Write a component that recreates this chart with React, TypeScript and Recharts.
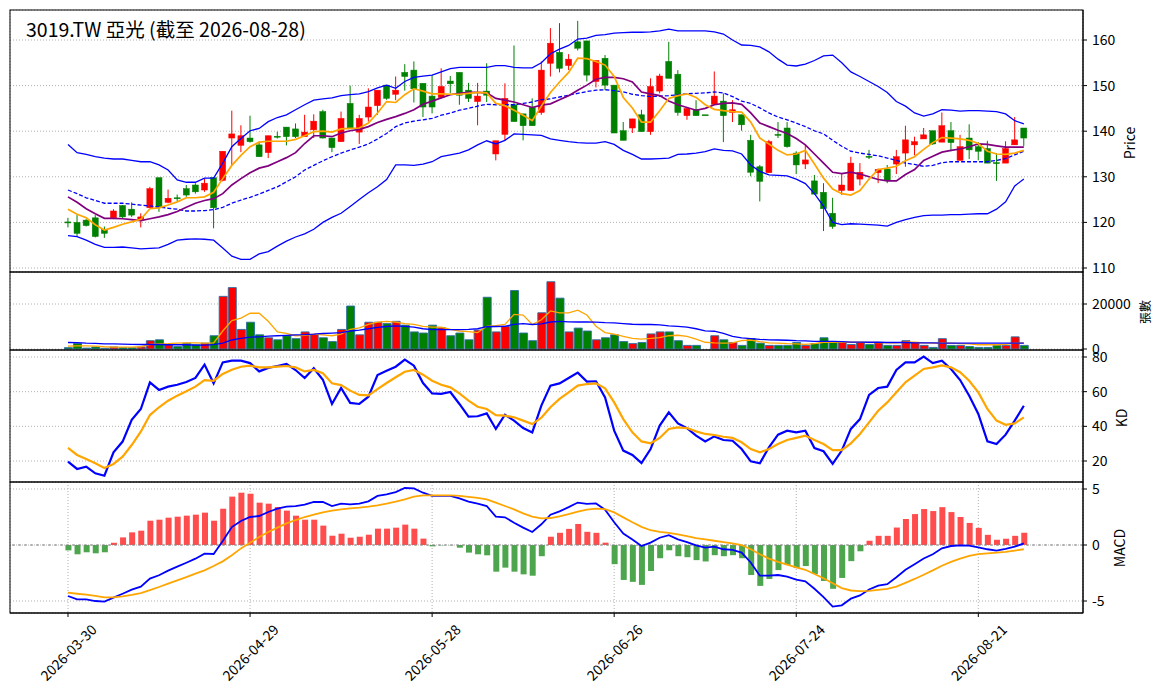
import React from 'react';
import { ComposedChart, Bar, Line, XAxis, YAxis, CartesianGrid, ReferenceLine, Cell } from 'recharts';

const tickIdx = [0, 20, 40, 60, 80, 100];
const tickDates = ['2026-03-30', '2026-04-29', '2026-05-28', '2026-06-26', '2026-07-24', '2026-08-21'];

const opens = [
  120.1, 120.0, 120.5, 121.0, 118.5, 121.0, 123.7, 122.9, 120.7, 123.2,
  129.8, 124.4, 125.4, 127.4, 128.2, 127.1, 129.8, 129.2, 138.5, 136.9,
  138.5, 137.0, 135.3, 138.9, 140.9, 140.5, 138.8, 140.3, 144.3, 138.5,
  137.7, 146.1, 139.8, 143.1, 145.6, 150.1, 148.1, 152.9, 153.4, 150.5,
  147.7, 147.4, 151.0, 152.9, 149.0, 146.5, 148.8, 135.0, 139.3, 145.8,
  143.8, 145.2, 144.1, 154.9, 157.3, 154.4, 159.6, 159.8, 150.9, 156.0,
  150.1, 140.1, 140.7, 143.6, 139.9, 148.8, 155.3, 152.5, 143.4, 144.7,
  143.6, 145.9, 146.6, 144.1, 143.6, 138.0, 132.2, 130.9, 139.3, 140.7,
  135.2, 132.8, 129.1, 126.6, 122.0, 127.0, 127.0, 129.5, 134.5, 130.9,
  131.7, 132.8, 135.2, 137.0, 138.3, 140.1, 137.6, 140.1, 133.6, 138.5,
  136.6, 136.2, 133.1, 133.0, 137.0, 140.7,
];
const highs = [
  121.0, 121.6, 120.7, 121.6, 119.1, 122.9, 123.8, 124.4, 122.0, 127.8,
  129.8, 127.2, 126.1, 128.2, 128.6, 129.7, 129.8, 135.6, 144.5, 141.3,
  143.4, 137.7, 139.0, 139.9, 140.9, 141.7, 143.6, 143.7, 144.7, 138.5,
  144.3, 150.0, 143.6, 149.4, 149.0, 150.1, 152.0, 154.7, 155.3, 150.5,
  152.3, 153.8, 152.1, 152.9, 150.6, 150.6, 154.9, 137.9, 150.5, 158.8,
  143.8, 147.2, 155.3, 162.6, 163.7, 156.9, 164.2, 159.8, 155.5, 156.7,
  150.1, 142.0, 142.7, 144.7, 151.6, 152.6, 159.6, 153.4, 145.0, 146.8,
  143.6, 153.1, 148.3, 146.8, 143.6, 139.2, 132.6, 138.1, 142.0, 142.0,
  135.6, 136.9, 130.4, 128.6, 125.4, 130.6, 134.4, 133.0, 135.9, 131.8,
  132.6, 135.9, 141.2, 138.8, 140.7, 140.1, 144.1, 142.0, 139.2, 141.5,
  137.6, 137.9, 135.2, 137.8, 143.1, 140.7,
];
const lows = [
  118.9, 116.9, 119.1, 116.7, 116.6, 120.7, 121.0, 121.2, 118.9, 123.2,
  122.3, 124.2, 124.7, 125.6, 126.3, 126.7, 118.7, 129.0, 132.6, 135.4,
  137.5, 134.4, 134.1, 138.4, 136.9, 138.5, 138.8, 138.5, 138.4, 135.4,
  137.7, 140.5, 137.2, 142.1, 143.6, 146.9, 146.8, 148.9, 146.3, 143.1,
  143.9, 147.2, 148.3, 145.8, 146.4, 141.3, 146.4, 133.6, 138.0, 142.1,
  138.0, 141.2, 143.6, 152.0, 152.9, 153.4, 157.7, 150.9, 149.6, 149.0,
  139.6, 138.0, 139.6, 139.9, 139.2, 148.3, 151.6, 143.4, 142.5, 143.4,
  143.6, 145.9, 137.6, 142.0, 140.1, 130.1, 124.6, 130.9, 138.5, 136.4,
  130.6, 131.7, 126.2, 118.1, 118.6, 126.0, 127.0, 128.1, 133.9, 128.6,
  128.6, 130.6, 132.2, 134.7, 138.3, 137.0, 137.6, 135.6, 133.6, 133.9,
  133.6, 133.0, 129.1, 133.0, 137.0, 136.7,
];
const closes = [
  119.9, 117.6, 119.3, 116.9, 117.6, 122.5, 121.2, 121.6, 121.2, 127.4,
  123.2, 125.3, 125.2, 126.0, 126.7, 128.6, 123.2, 135.6, 139.4, 139.0,
  137.7, 134.4, 139.0, 138.8, 138.8, 138.8, 139.8, 142.2, 138.5, 136.4,
  142.8, 140.5, 142.8, 145.3, 149.0, 147.2, 149.0, 152.0, 149.3, 145.3,
  145.3, 149.8, 150.4, 147.9, 147.2, 147.7, 147.9, 137.9, 147.2, 142.1,
  141.2, 141.2, 153.4, 159.3, 153.8, 155.8, 158.2, 152.3, 155.5, 150.1,
  139.6, 138.0, 142.7, 139.9, 149.8, 152.1, 151.6, 144.1, 145.0, 143.4,
  143.6, 147.7, 143.4, 144.7, 141.4, 131.0, 129.0, 137.7, 139.1, 136.6,
  132.6, 133.7, 126.2, 123.0, 119.1, 128.2, 133.0, 131.0, 134.3, 131.6,
  129.3, 134.4, 138.1, 137.7, 139.2, 137.2, 141.2, 137.5, 136.6, 135.9,
  135.6, 133.0, 132.9, 136.2, 138.1, 138.5,
];
const volumes = [
  600, 2500, 400, 900, 300, 900, 600, 600, 900, 3700,
  4100, 1900, 1100, 2600, 1900, 2600, 5900, 23400, 27300, 8700,
  11900, 6300, 5000, 4100, 5900, 4600, 7600, 6400, 5000, 3300,
  8700, 19100, 6300, 11900, 11900, 11300, 12300, 10600, 7600, 7100,
  10600, 9400, 5900, 7100, 4100, 8400, 23000, 7600, 10100, 26000,
  7100, 3700, 16100, 29900, 22600, 7600, 9300, 8000, 4100, 5000,
  6300, 3300, 2400, 2900, 6700, 7600, 7600, 3700, 1600, 1600,
  0, 5900, 4100, 2900, 1600, 4600, 2600, 1600, 1600, 1600,
  2900, 1600, 2400, 5000, 2900, 2900, 2000, 2900, 2000, 2900,
  1600, 1600, 3700, 2900, 1600, 700, 4600, 1600, 1600, 1100,
  700, 700, 1600, 1600, 5400, 1600,
];
const ma5 = [
  122.9, 121.8, 121.0, 119.5, 118.3, 118.9, 119.6, 120.1, 120.7, 123.0,
  123.2, 123.8, 124.5, 125.4, 125.4, 125.6, 126.6, 129.6, 132.5, 134.7,
  136.6, 137.6, 137.8, 137.8, 137.8, 138.2, 139.0, 139.9, 140.0, 139.8,
  140.5, 140.6, 140.7, 141.8, 144.0, 146.5, 146.3, 148.0, 149.3, 148.8,
  148.2, 148.2, 148.1, 148.1, 148.3, 148.5, 148.4, 146.1, 145.6, 144.6,
  143.5, 142.3, 145.5, 148.5, 150.8, 152.9, 156.0, 155.9, 155.3, 154.5,
  152.0, 147.4, 145.1, 142.0, 142.0, 144.5, 147.2, 147.8, 148.2, 147.4,
  145.8, 144.8, 144.5, 144.3, 144.2, 142.0, 138.5, 137.2, 135.8, 134.8,
  135.0, 135.8, 132.8, 129.7, 127.3, 126.3, 126.0, 127.0, 129.5, 131.6,
  131.9, 132.3, 133.5, 134.4, 136.0, 137.5, 138.6, 138.5, 138.3, 138.0,
  137.3, 135.6, 135.0, 134.9, 135.2, 135.8,
];
const ma10 = [
  125.6, 124.4, 123.0, 121.9, 120.9, 120.9, 120.8, 120.6, 120.4, 120.8,
  121.2, 121.7, 122.4, 123.3, 124.2, 124.8, 125.2, 126.3, 128.2, 129.6,
  130.9, 131.9, 132.4, 133.3, 134.2, 135.3, 137.3, 139.0, 139.0, 138.8,
  139.6, 140.1, 140.4, 141.0, 141.9, 142.6, 143.2, 143.9, 144.7, 145.9,
  146.6, 147.3, 148.0, 148.3, 148.5, 148.5, 148.4, 147.2, 146.8, 146.4,
  145.8, 145.2, 145.7, 146.0, 146.9, 147.8, 149.0, 150.1, 151.4, 151.8,
  151.8, 151.5, 150.8, 148.6, 148.2, 147.8, 146.6, 145.8, 145.2, 144.6,
  145.0, 145.8, 146.1, 146.2, 145.9, 144.0, 141.8, 141.0, 140.2, 139.5,
  138.4, 137.0, 135.0, 133.0, 131.0, 130.7, 131.0, 130.6, 130.0, 129.4,
  129.1, 129.1, 130.5, 131.6, 133.6, 134.5, 135.4, 135.8, 136.1, 136.6,
  137.2, 137.1, 136.8, 136.5, 136.5, 136.5,
];
const bbMid = [
  127.1, 126.3, 125.4, 124.8, 124.2, 124.2, 124.2, 124.0, 123.8, 123.6,
  123.4, 123.1, 122.9, 122.5, 122.5, 122.6, 122.8, 123.3, 124.2, 124.9,
  125.5, 126.2, 127.0, 127.8, 128.9, 130.0, 131.5, 132.5, 133.5, 134.4,
  135.2, 135.9, 136.5, 137.2, 138.3, 139.5, 141.0, 141.8, 142.2, 142.5,
  142.8, 143.5, 144.0, 144.6, 145.0, 145.5, 145.9, 145.8, 145.8, 145.8,
  146.1, 146.4, 146.9, 147.1, 147.5, 147.9, 148.3, 148.7, 149.0, 149.1,
  148.9, 148.6, 148.1, 147.8, 147.6, 147.7, 147.8, 148.0, 148.2, 148.3,
  148.4, 148.6, 148.4, 147.6, 146.6, 146.1, 145.1, 144.0, 143.1, 142.5,
  141.8, 141.0, 140.1, 139.4, 138.0, 136.7, 135.6, 135.2, 134.9, 134.6,
  134.1, 133.6, 133.0, 132.7, 132.3, 132.5, 133.1, 133.3, 133.3, 133.3,
  133.3, 133.3, 133.6, 134.0, 134.8, 135.6,
];
const bbUp = [
  137.1, 135.3, 134.9, 134.4, 134.1, 133.9, 133.9, 133.6, 133.3, 133.3,
  132.6, 131.5, 129.3, 128.8, 128.8, 129.7, 129.7, 133.0, 136.6, 138.4,
  140.1, 140.6, 142.1, 143.0, 143.6, 144.7, 145.8, 146.8, 147.1, 147.3,
  147.8, 148.0, 148.2, 148.7, 149.5, 150.1, 149.4, 150.9, 151.8, 152.1,
  152.3, 153.0, 153.7, 154.0, 154.0, 154.0, 154.0, 154.4, 154.4, 154.0,
  153.9, 153.9, 155.0, 157.0, 158.0, 158.8, 160.2, 160.4, 161.0, 161.2,
  161.5, 161.6, 161.7, 161.7, 161.8, 162.0, 162.4, 162.0, 162.0, 162.0,
  162.0, 161.8, 161.3, 160.0, 158.9, 158.8, 158.5, 157.4, 155.8, 154.5,
  154.3, 154.7, 155.5, 156.5, 156.7, 155.0, 153.0, 152.0, 150.9, 149.8,
  148.5, 146.5, 145.5, 144.0, 143.3, 143.8, 144.7, 144.6, 144.4, 144.5,
  144.5, 144.4, 144.3, 143.8, 142.3, 141.6,
];
const bbLow = [
  117.1, 116.9, 116.1, 115.2, 114.5, 114.5, 114.6, 114.4, 114.2, 114.3,
  114.4, 115.2, 116.1, 116.3, 116.4, 116.3, 116.1, 114.4, 112.6, 111.9,
  111.9, 113.1, 113.6, 114.8, 115.9, 116.8, 117.5, 118.5, 120.0, 121.1,
  122.0, 123.5, 125.0, 126.5, 127.8, 129.4, 132.6, 132.6, 132.5, 132.8,
  133.3, 134.4, 134.8, 135.2, 135.9, 137.0, 137.9, 137.2, 138.0, 139.4,
  139.3, 139.2, 139.1, 138.3, 138.0, 137.7, 137.5, 137.4, 137.4, 137.7,
  137.1, 135.8, 134.9, 133.9, 133.9, 134.0, 134.1, 134.9, 135.0, 135.2,
  135.5, 136.1, 135.8, 135.7, 135.0, 132.6, 131.2, 130.4, 130.3, 130.2,
  129.5, 128.5, 126.3, 123.5, 120.0, 119.5, 119.7, 119.6, 119.5, 119.4,
  119.2, 120.0, 120.6, 121.1, 121.5, 121.6, 121.6, 121.7, 121.7, 121.8,
  121.9, 121.9, 122.9, 124.5, 128.0, 129.5,
];
const volMa5 = [
  1300, 1400, 1400, 1300, 1000, 850, 850, 850, 1000, 2000,
  2300, 2400, 2600, 2700, 2700, 2600, 2700, 8000, 12600, 13700,
  15900, 15900, 12300, 7600, 6900, 5900, 6100, 6600, 6300, 5900,
  6600, 8700, 9400, 10900, 11900, 12300, 11900, 11300, 10900, 10100,
  9700, 9700, 8700, 8000, 7700, 7300, 10100, 10400, 10900, 15400,
  15100, 10900, 13000, 16900, 16100, 16100, 17300, 15100, 10100, 7300,
  6600, 5600, 4700, 4400, 4700, 5100, 5900, 6100, 5600, 4400,
  3000, 2700, 2600, 2700, 3700, 4000, 3300, 2700, 2600, 2400,
  2300, 2100, 2400, 3000, 3000, 3000, 3000, 3000, 2900, 2900,
  2700, 2700, 3000, 3000, 2700, 2600, 2700, 2600, 2400, 2300,
  1900, 1900, 1900, 2100, 2600, 2700,
];
const volMa20 = [
  2900, 2800, 2600, 2500, 2300, 2300, 2200, 2100, 2000, 2000,
  2000, 1900, 1900, 1900, 1700, 1700, 1900, 2600, 4000, 4700,
  5300, 5400, 5700, 5900, 6100, 6300, 6400, 6600, 6900, 7100,
  7300, 8000, 8400, 9000, 9600, 10000, 10300, 10100, 9700, 9000,
  8600, 8600, 8600, 8600, 8700, 9000, 9900, 10000, 10100, 10900,
  11300, 10900, 11200, 12000, 12300, 12100, 12000, 12000, 11900, 11700,
  11600, 11300, 11000, 10900, 10900, 10700, 10300, 10100, 9700, 9000,
  8100, 7900, 6900, 5600, 4900, 4600, 4300, 4100, 4000, 3900,
  3700, 3600, 3400, 3400, 3400, 3300, 3100, 3100, 3000, 3000,
  2900, 2900, 2900, 2700, 2700, 2700, 2600, 2600, 2600, 2600,
  2600, 2600, 2600, 2600, 2600, 2600,
];
const kLine = [
  19.6, 15.4, 16.7, 12.9, 11.5, 25.0, 31.2, 43.8, 50.0, 65.4,
  61.0, 62.9, 64.0, 65.6, 67.9, 75.6, 64.8, 76.9, 77.9, 77.9,
  76.5, 71.7, 73.7, 74.8, 76.0, 72.5, 67.9, 73.5, 66.9, 52.9,
  62.1, 53.5, 52.9, 57.1, 69.6, 72.1, 74.4, 78.5, 75.0, 65.0,
  59.0, 58.7, 59.8, 52.9, 45.6, 45.8, 47.5, 38.5, 46.7, 43.3,
  39.0, 36.5, 52.0, 63.5, 64.8, 67.9, 71.0, 65.8, 66.0, 56.7,
  37.5, 26.0, 23.5, 18.8, 26.9, 40.4, 48.1, 41.7, 39.0, 34.6,
  31.3, 34.2, 32.1, 31.7, 26.9, 19.8, 18.7, 27.9, 35.2, 37.5,
  36.5, 37.5, 27.5, 25.6, 18.3, 26.0, 38.5, 44.2, 58.1, 62.1,
  62.9, 72.5, 76.9, 76.9, 80.2, 76.5, 77.9, 73.1, 66.7, 57.7,
  47.1, 31.3, 29.8, 35.2, 43.3, 51.9,
];
const dLine = [
  27.5, 23.5, 21.2, 18.7, 16.0, 18.3, 22.5, 29.2, 36.9, 46.5,
  51.0, 54.8, 57.7, 60.2, 62.9, 66.7, 66.3, 70.2, 72.7, 74.4,
  75.0, 74.0, 74.0, 74.4, 74.8, 74.0, 71.7, 72.5, 70.6, 64.8,
  63.8, 60.6, 58.1, 57.9, 61.5, 65.0, 68.3, 71.5, 72.5, 69.8,
  66.3, 64.0, 62.5, 59.0, 54.8, 51.3, 50.0, 46.5, 46.2, 45.2,
  43.3, 41.3, 45.0, 51.0, 55.8, 59.6, 63.5, 64.4, 64.8, 61.9,
  53.8, 44.2, 36.5, 31.3, 30.2, 33.3, 38.5, 39.4, 39.0, 37.1,
  35.6, 35.0, 34.0, 33.3, 30.8, 26.9, 25.0, 26.9, 29.8, 32.1,
  33.3, 34.6, 32.1, 29.8, 26.3, 26.3, 30.2, 35.6, 42.3, 49.0,
  53.8, 59.6, 65.4, 69.2, 73.1, 74.0, 75.2, 74.0, 71.2, 66.3,
  59.6, 50.0, 43.3, 40.9, 41.7, 45.2,
];
const macdLine = [
  -4.55, -4.85, -4.85, -5.0, -5.06, -4.7, -4.35, -3.99, -3.72, -3.0,
  -2.7, -2.29, -1.93, -1.58, -1.22, -0.77, -0.8, 0.36, 1.6, 2.14,
  2.5, 2.59, 2.95, 3.24, 3.42, 3.48, 3.6, 3.84, 3.84, 3.48,
  3.69, 3.63, 3.69, 3.9, 4.38, 4.52, 4.73, 5.09, 5.06, 4.67,
  4.38, 4.38, 4.38, 4.17, 3.87, 3.69, 3.48, 2.53, 2.47, 1.99,
  1.55, 1.16, 1.85, 2.71, 3.0, 3.38, 3.79, 3.68, 3.71, 3.15,
  2.03, 1.03, 0.5, -0.09, 0.21, 0.65, 0.88, 0.5, 0.26, -0.03,
  -0.24, -0.15, -0.38, -0.44, -0.68, -1.56, -2.74, -2.74, -2.68, -2.82,
  -3.09, -3.24, -3.91, -4.65, -5.5, -5.38, -4.79, -4.5, -3.97, -3.62,
  -3.5, -2.88, -2.21, -1.71, -1.21, -0.82, -0.29, -0.09, -0.03, -0.06,
  -0.21, -0.38, -0.5, -0.35, -0.15, 0.15,
];
const signalLine = [
  -4.26, -4.35, -4.43, -4.55, -4.67, -4.67, -4.58, -4.46, -4.29, -4.02,
  -3.75, -3.45, -3.15, -2.86, -2.56, -2.26, -1.88, -1.46, -0.92, -0.3,
  0.21, 0.71, 1.16, 1.55, 1.93, 2.23, 2.5, 2.71, 2.92, 3.07,
  3.18, 3.27, 3.33, 3.42, 3.54, 3.69, 3.87, 4.08, 4.32, 4.43,
  4.43, 4.43, 4.43, 4.38, 4.29, 4.2, 4.08, 3.78, 3.48, 3.18,
  2.83, 2.53, 2.38, 2.41, 2.56, 2.76, 2.97, 3.15, 3.24, 3.21,
  2.91, 2.47, 2.03, 1.62, 1.32, 1.18, 1.09, 0.94, 0.79, 0.62,
  0.5, 0.38, 0.26, 0.15, 0.0, -0.38, -0.82, -1.21, -1.5, -1.76,
  -2.0, -2.21, -2.59, -2.97, -3.41, -3.85, -4.06, -4.12, -4.09, -4.0,
  -3.91, -3.71, -3.38, -3.03, -2.65, -2.26, -1.85, -1.5, -1.21, -0.97,
  -0.82, -0.74, -0.68, -0.62, -0.5, -0.38,
];
const histVals = [
  -0.48, -0.83, -0.65, -0.74, -0.65, 0.2, 0.68, 1.13, 1.28, 2.17,
  2.26, 2.44, 2.53, 2.62, 2.71, 2.89, 2.17, 3.24, 4.32, 4.67,
  4.58, 3.78, 3.69, 3.39, 3.07, 2.62, 2.26, 2.26, 1.73, 0.83,
  1.01, 0.65, 0.74, 0.92, 1.46, 1.46, 1.55, 1.82, 1.46, 0.57,
  -0.12, -0.03, -0.02, -0.24, -0.68, -0.83, -0.92, -2.38, -2.02, -2.38,
  -2.62, -2.74, -1.0, 0.74, 1.09, 1.44, 1.88, 1.18, 1.09, 0.21,
  -1.71, -3.12, -3.29, -3.56, -2.32, -1.18, -0.47, -1.0, -1.09, -1.35,
  -1.47, -0.91, -1.0, -0.91, -1.18, -2.68, -3.65, -3.03, -2.24, -1.79,
  -2.06, -1.88, -2.59, -3.21, -3.91, -2.94, -1.44, -0.56, 0.38, 0.82,
  0.82, 1.56, 2.32, 2.76, 3.21, 3.03, 3.38, 2.94, 2.5, 1.97,
  1.53, 0.91, 0.47, 0.56, 0.82, 1.09,
];

const rows = closes.map((c, i) => ({
  i,
  open: opens[i],
  high: highs[i],
  low: lows[i],
  close: c,
  vol: volumes[i],
  ma5: ma5[i],
  ma10: ma10[i],
  bbMid: bbMid[i],
  bbUp: bbUp[i],
  bbLow: bbLow[i],
  volMa5: volMa5[i],
  volMa20: volMa20[i],
  k: kLine[i],
  d: dLine[i],
  macd: macdLine[i],
  signal: signalLine[i],
  hist: histVals[i],
}));

const RED = '#ff0000';
const GREEN = '#008000';
const FONT = "'Noto Sans CJK TC', 'Noto Sans', sans-serif";
const W = 1164;
const xDomain: [number, number] = [-6.37, 111.5];
const margin = { top: 0, right: 0, bottom: 0, left: 10 };
const tickStyle = { fontSize: 14, fill: '#000' };

// candle body + wick, placed inside the [low, high] bar that recharts scales
const Candle = (props: any) => {
  const { x, y, width, height, payload } = props;
  if (x == null || y == null || !payload) return null;
  const { open, close, high, low } = payload;
  const color = close > open ? RED : GREEN;
  const cx = x + width / 2;
  const top = Math.min(y, y + height);
  const h = Math.abs(height);
  const span = high - low;
  const toY = (v: number) => (span > 0 ? top + ((high - v) / span) * h : top);
  const bTop = toY(Math.max(open, close));
  const bBot = toY(Math.min(open, close));
  return (
    <g>
      <line x1={cx} x2={cx} y1={top} y2={top + h} stroke={color} strokeWidth={1} />
      <rect x={cx - 3} y={bTop} width={6} height={Math.max(bBot - bTop, 1)} fill={color} stroke={color} strokeWidth={0.5} />
    </g>
  );
};

const DateTick = (props: any) => {
  const { x, y, payload } = props;
  const label = tickDates[tickIdx.indexOf(payload.value)] ?? '';
  const cy = y + 33;
  return (
    <text x={x} y={cy} textAnchor="middle" dominantBaseline="central" fontSize={14} fill="#000"
      transform={`rotate(-45, ${x}, ${cy})`}>
      {label}
    </text>
  );
};

const App = () => {
  return (
    <div style={{ position: 'absolute', left: 0, top: 0, width: W, height: 698, background: '#fff', fontFamily: FONT }}>
      <style>{'.recharts-surface { overflow: visible; }'}</style>
      <div style={{ position: 'absolute', left: 0, top: 10 }}>
        <ComposedChart width={W} height={262} data={rows} margin={margin}>
          <CartesianGrid stroke="#b0b0b0" strokeDasharray="1 2" />
          <XAxis type="number" dataKey="i" domain={xDomain} ticks={tickIdx} allowDataOverflow
            height={0} tick={false} axisLine={false} tickLine={false} />
          <YAxis orientation="right" width={81} domain={[109.12, 166.58]} ticks={[110, 120, 130, 140, 150, 160]}
            allowDataOverflow interval={0} tick={tickStyle} tickSize={4} tickMargin={5} stroke="#000" />
          <Bar dataKey={(r: any) => [r.low, r.high]} barSize={7} shape={Candle} isAnimationActive={false} />
          <Line type="linear" dataKey="bbUp" stroke="#0000ff" strokeWidth={1.3} dot={false} activeDot={false} isAnimationActive={false} />
          <Line type="linear" dataKey="bbLow" stroke="#0000ff" strokeWidth={1.3} dot={false} activeDot={false} isAnimationActive={false} />
          <Line type="linear" dataKey="bbMid" stroke="#0000ff" strokeWidth={1.3} strokeDasharray="4 2" dot={false} activeDot={false} isAnimationActive={false} />
          <Line type="linear" dataKey="ma10" stroke="#800080" strokeWidth={1.7} dot={false} activeDot={false} isAnimationActive={false} />
          <Line type="linear" dataKey="ma5" stroke="#ffa500" strokeWidth={1.7} dot={false} activeDot={false} isAnimationActive={false} />
        </ComposedChart>
      </div>

      <div style={{ position: 'absolute', left: 0, top: 272 }}>
        <ComposedChart width={W} height={78} data={rows} margin={margin}>
          <CartesianGrid stroke="#b0b0b0" strokeDasharray="1 2" />
          <XAxis type="number" dataKey="i" domain={xDomain} ticks={tickIdx} allowDataOverflow
            height={0} tick={false} axisLine={false} tickLine={false} />
          <YAxis orientation="right" width={81} domain={[-444, 34222]} ticks={[0, 20000]}
            allowDataOverflow interval={0} tick={tickStyle} tickSize={4} tickMargin={5} stroke="#000" />
          <Bar dataKey="vol" barSize={8} isAnimationActive={false}>
            {rows.map((r) => (
              <Cell key={r.i} fill={r.close > r.open ? RED : GREEN} stroke="#2b6ea6" strokeWidth={0.9} />
            ))}
          </Bar>
          <Line type="linear" dataKey="volMa5" stroke="#ffa500" strokeWidth={1.3} dot={false} activeDot={false} isAnimationActive={false} />
          <Line type="linear" dataKey="volMa20" stroke="#0000ff" strokeWidth={1.3} dot={false} activeDot={false} isAnimationActive={false} />
        </ComposedChart>
      </div>

      <div style={{ position: 'absolute', left: 0, top: 350 }}>
        <ComposedChart width={W} height={132} data={rows} margin={margin}>
          <CartesianGrid stroke="#b0b0b0" strokeDasharray="1 2" />
          <XAxis type="number" dataKey="i" domain={xDomain} ticks={tickIdx} allowDataOverflow
            height={0} tick={false} axisLine={false} tickLine={false} />
          <YAxis orientation="right" width={81} domain={[7.88, 84.04]} ticks={[20, 40, 60, 80]}
            allowDataOverflow interval={0} tick={tickStyle} tickSize={4} tickMargin={5} stroke="#000" />
          <Line type="linear" dataKey="k" stroke="#0000ff" strokeWidth={2.2} dot={false} activeDot={false} isAnimationActive={false} />
          <Line type="linear" dataKey="d" stroke="#ffa500" strokeWidth={2.2} dot={false} activeDot={false} isAnimationActive={false} />
        </ComposedChart>
      </div>

      <div style={{ position: 'absolute', left: 0, top: 482 }}>
        <ComposedChart width={W} height={216} data={rows} margin={margin}>
          <CartesianGrid stroke="#b0b0b0" strokeDasharray="1 2" />
          <XAxis type="number" dataKey="i" domain={xDomain} ticks={tickIdx} allowDataOverflow interval={0}
            height={85} tick={<DateTick />} tickSize={4} tickMargin={2} stroke="#000" />
          <YAxis orientation="right" width={81} domain={[-6.07, 5.625]} ticks={[-5, 0, 5]}
            allowDataOverflow interval={0} tick={tickStyle} tickSize={4} tickMargin={5} stroke="#000" />
          <ReferenceLine y={0} stroke="#888" strokeDasharray="3 3" />
          <Bar dataKey="hist" barSize={6} isAnimationActive={false}>
            {rows.map((r) => (
              <Cell key={r.i} fill={r.hist >= 0 ? '#ff4d4d' : '#4da64d'} />
            ))}
          </Bar>
          <Line type="linear" dataKey="macd" stroke="#0000ff" strokeWidth={1.8} dot={false} activeDot={false} isAnimationActive={false} />
          <Line type="linear" dataKey="signal" stroke="#ffa500" strokeWidth={1.8} dot={false} activeDot={false} isAnimationActive={false} />
        </ComposedChart>
      </div>

      <svg width={W} height={698} style={{ position: 'absolute', left: 0, top: 0, pointerEvents: 'none' }}>
        <rect x={10} y={10} width={1073} height={262} fill="none" stroke="#000" strokeWidth={1} />
        <rect x={10} y={272} width={1073} height={78} fill="none" stroke="#000" strokeWidth={1} />
        <rect x={10} y={350} width={1073} height={132} fill="none" stroke="#000" strokeWidth={1} />
        <rect x={10} y={482} width={1073} height={131} fill="none" stroke="#000" strokeWidth={1} />
        <text x={26} y={37} fontSize={19.5} fill="#000">3019.TW 亞光 (截至 2026-08-28)</text>
        <text x={1129} y={143} fontSize={14} fill="#000" textAnchor="middle" dominantBaseline="central"
          transform="rotate(-90, 1129, 143)">Price</text>
        <text x={1144} y={312} fontSize={12} fill="#000" textAnchor="middle" dominantBaseline="central"
          transform="rotate(-90, 1144, 312)">張數</text>
        <text x={1121} y={418} fontSize={14} fill="#000" textAnchor="middle" dominantBaseline="central"
          transform="rotate(-90, 1121, 418)">KD</text>
        <text x={1119} y={548} fontSize={14} fill="#000" textAnchor="middle" dominantBaseline="central"
          transform="rotate(-90, 1119, 548)">MACD</text>
      </svg>
    </div>
  );
};

export default App;
